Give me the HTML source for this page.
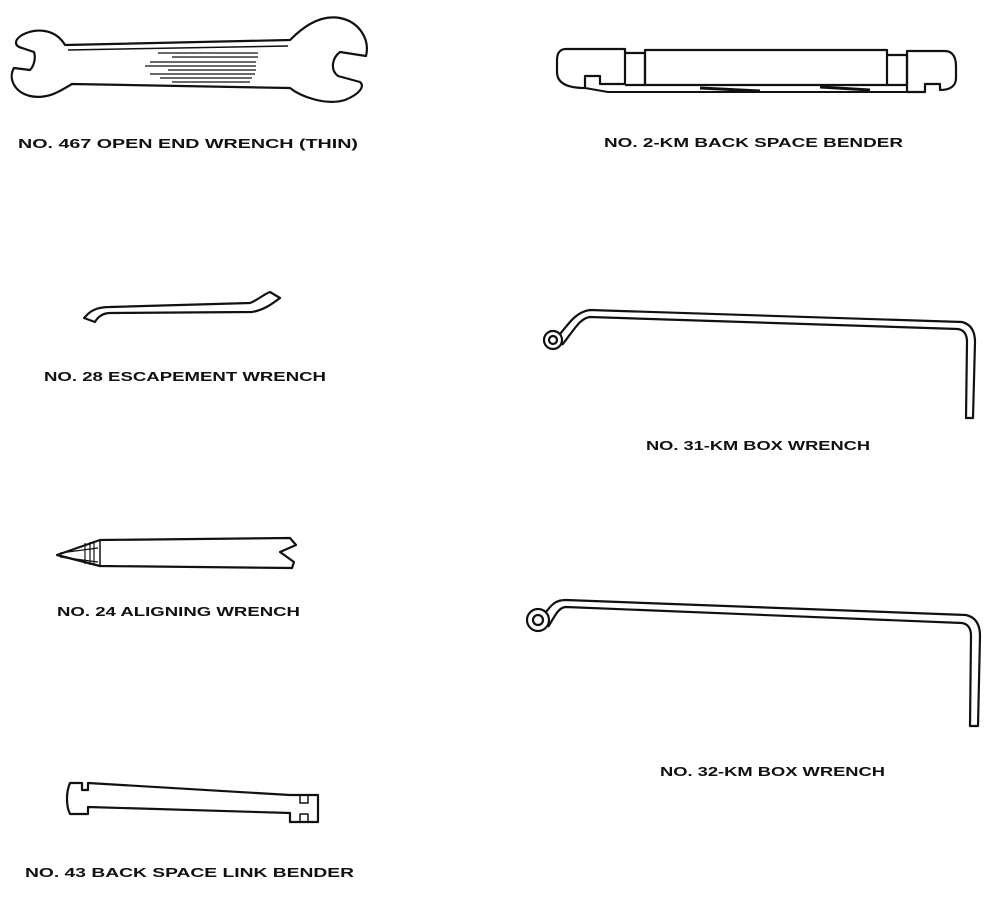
<!DOCTYPE html>
<html><head><style>
html,body{margin:0;padding:0;background:#fff;}
svg{display:block}
text{font-family:"Liberation Sans",sans-serif;font-weight:bold;font-size:13px;fill:#111;}
</style></head><body>
<svg width="1000" height="917" viewBox="0 0 1000 917" xmlns="http://www.w3.org/2000/svg">
<g fill="none" stroke="#111" stroke-width="2.2" stroke-linejoin="round">
<!-- 467 open end wrench -->
<path d="M65,45 C55,28 35,28 22,35 C14,40 14,46 22,48 L34,52 C36,58 34,66 30,70 L14,68 C8,78 14,92 30,96 C48,100 62,90 72,84 L290,88 C300,96 325,106 345,100 C360,94 365,86 360,82 L338,76 C330,70 332,58 340,52 L366,56 C370,40 360,22 340,18 C318,14 300,30 290,40 Z"/>
<path d="M68,50 L288,46" stroke-width="1.5"/>
<g stroke-width="1.3"><path d="M158,53H258M172,57H258M150,62H256M145,66H256M168,70H256M150,74H255M160,78H252M172,82H250"/></g>
<!-- 2-KM back space bender -->
<path d="M566,49 H625 V84 H600 V76 H585 V88 C565,88 557,82 557,72 V60 C557,53 560,49 566,49 Z"/>
<path d="M625,53 H645 V85 H625"/>
<rect x="645" y="50" width="242" height="35"/>
<path d="M887,55 H907 V85 H887"/>
<path d="M907,51 H945 C953,51 956,58 956,66 V78 C956,86 950,90 940,90 V84 H925 V92 H907 Z"/>
<path d="M585,88 L608,92 H925" stroke-width="2"/>
<path d="M700,88 L760,91 M820,87 L870,90" stroke-width="3"/>
<!-- 28 escapement -->
<path d="M86,316 C92,309 100,307 110,307 L250,303 C258,300 264,294 270,292 L280,298 C272,304 264,310 252,312 L110,313 C102,313 97,318 95,322 L84,318 Z"/>
<!-- 31-KM box wrench -->
<circle cx="553" cy="340" r="9"/><circle cx="553" cy="340" r="4"/>
<path d="M560,334 C568,325 575,312 590,310 L962,322 C970,324 975,330 975,342 L973,418 L966,418 L967,342 C967,334 964,330 958,329 L590,317 C580,318 574,330 562,345" />
<!-- 32-KM box wrench -->
<circle cx="538" cy="620" r="11"/><circle cx="538" cy="620" r="5"/>
<path d="M546,612 C552,604 556,600 566,600 L966,615 C975,617 980,624 980,636 L978,726 L970,726 L971,636 C971,628 968,624 962,623 L566,607 C558,607 554,618 548,627"/>
<!-- 24 aligning wrench -->
<path d="M57,555 L100,540 L290,538 L296,545 L280,552 L294,562 L292,568 L100,566 Z"/>
<path d="M100,540 V566" stroke-width="1.5"/>
<path d="M60,553 L98,548 M60,557 L98,562 M85,543 V564 M90,542 V565 M94,541 V565" stroke-width="1.2"/>
<!-- 43 link bender -->
<path d="M70,783 H82 V790 H88 V783 L290,795 H318 V822 H290 V813 L88,807 V814 H70 C66,806 66,792 70,783 Z"/>
<path d="M300,795 V803 H308 V795 M300,822 V814 H308 V822" stroke-width="1.5"/>
</g>
<text x="18" y="148" textLength="340" lengthAdjust="spacingAndGlyphs">NO. 467 OPEN END WRENCH (THIN)</text>
<text x="604" y="147" textLength="299" lengthAdjust="spacingAndGlyphs">NO. 2-KM BACK SPACE BENDER</text>
<text x="44" y="381" textLength="282" lengthAdjust="spacingAndGlyphs">NO. 28 ESCAPEMENT WRENCH</text>
<text x="646" y="450" textLength="224" lengthAdjust="spacingAndGlyphs">NO. 31-KM BOX WRENCH</text>
<text x="57" y="616" textLength="243" lengthAdjust="spacingAndGlyphs">NO. 24 ALIGNING WRENCH</text>
<text x="660" y="776" textLength="225" lengthAdjust="spacingAndGlyphs">NO. 32-KM BOX WRENCH</text>
<text x="25" y="877" textLength="329" lengthAdjust="spacingAndGlyphs">NO. 43 BACK SPACE LINK BENDER</text>
</svg>
</body></html>
